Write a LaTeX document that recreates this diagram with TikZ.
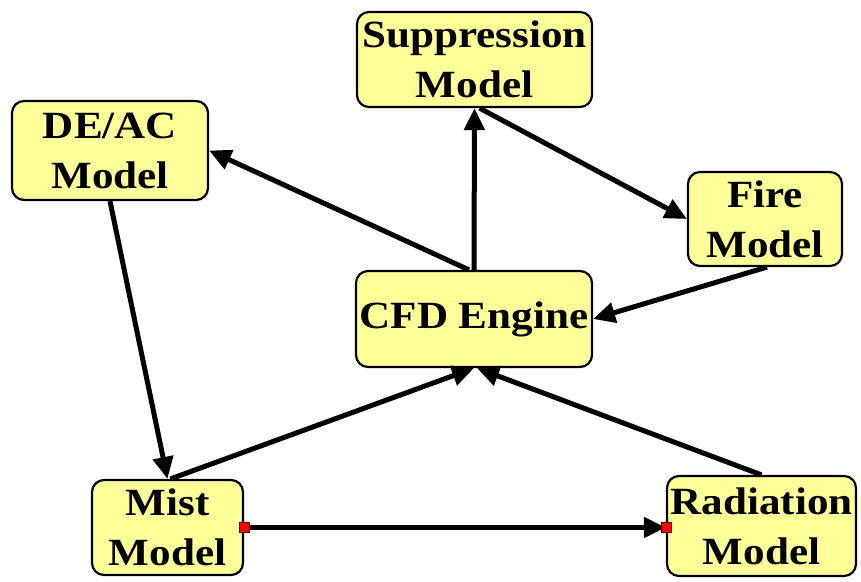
\documentclass[tikz,border=0pt]{standalone}
\usepackage{fontspec}
\setmainfont{Liberation Serif}[FakeStretch=1.12]
\usetikzlibrary{arrows.meta}
\definecolor{boxyellow}{HTML}{FFFF99}
\tikzset{
  mbox/.style={draw=black, line width=2.2pt, fill=boxyellow, rounded corners=12pt,
    align=center, inner sep=0pt, font=\fontsize{38.5}{50}\selectfont\bfseries},
  conn/.style={line width=5pt, -{Triangle[length=22pt,width=20pt]}},
  redsq/.style={draw=black!70!red, line width=0.6pt, fill=red, minimum size=10pt, inner sep=0pt}
}
\begin{document}
\begin{tikzpicture}[x=1pt,y=-1pt]
\useasboundingbox (0,0) rectangle (861,581);
\node[mbox, minimum width=235pt, minimum height=95pt] (supp) at (474.5,59.5) {Suppression\\Model};
\node[mbox, minimum width=196pt, minimum height=99pt] (deac) at (110,150.5) {DE/AC\\Model};
\node[mbox, minimum width=154pt, minimum height=94pt] (fire) at (765,219) {Fire\\Model};
\node[mbox, minimum width=236pt, minimum height=96pt] (cfd) at (474,319) {CFD Engine};
\node[mbox, minimum width=151pt, minimum height=95pt] (mist) at (167.5,527.5) {Mist\\Model};
\node[mbox, minimum width=189pt, minimum height=100pt] (rad) at (761.5,526) {Radiation\\Model};

\draw[conn] (cfd.north) -- (supp.south);
\draw[conn] ([xshift=5pt]supp.south) -- (fire.west);
\draw[conn] ([xshift=-5pt]cfd.north) -- (deac.east);
\draw[conn] ([xshift=2pt]fire.south) -- (cfd.east);
\draw[conn] (deac.south) -- (mist.north);
\draw[conn] ([xshift=3pt]mist.north) -- (cfd.south);
\draw[conn] (rad.north) -- ([xshift=3pt]cfd.south);
\coordinate (radin) at (rad.west |- mist.east);
\draw[conn] (mist.east) -- (radin);
\node[redsq] (sqa) at (mist.east) {};
\node[redsq] (sqb) at (radin) {};
\end{tikzpicture}
\end{document}
